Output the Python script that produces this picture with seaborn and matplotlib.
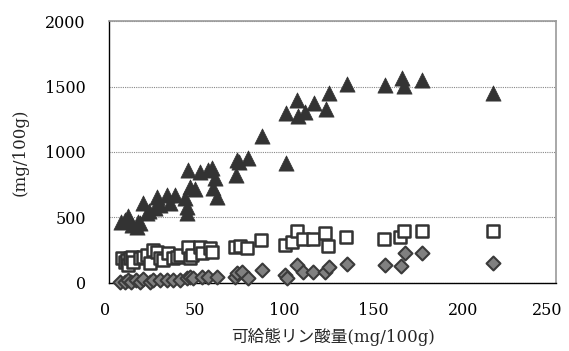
import matplotlib
matplotlib.use("Agg")
import matplotlib.pyplot as plt
import matplotlib.transforms as mtransforms
import seaborn as sns
import pandas as pd

# ==========================
# Data
# ==========================

tri_x = [6.5, 8.7, 10.5, 12.4, 15.2, 16.1, 17.1, 18.9, 20.8, 22.0, 25.6, 26.4, 28.3,
         32.0, 33.9, 36.7, 42.3, 43.2, 43.2, 43.8, 45.0, 47.9, 50.7, 55.3, 57.2, 58.1,
         59.1, 60.0, 70.8, 71.2, 72.5, 77.7, 85.2, 98.8, 98.6, 104.8, 105.7, 109.5,
         114.5, 121.2, 123.0, 132.8, 154.3, 163.6, 165.0, 175.0, 214.9]
tri_y = [466, 479, 510, 441, 428, 466, 454, 607, 530, 545, 568, 657, 594,
         670, 607, 670, 645, 581, 530, 861, 734, 715, 849, 861, 880, 721,
         798, 657, 823, 938, 925, 951, 1122, 913, 1295, 1397, 1275, 1308,
         1376, 1328, 1453, 1519, 1512, 1563, 1504, 1555, 1448]

sq_x = [6.8, 8.5, 9.6, 10.5, 11.5, 12.4, 13.3, 17.1, 18.9, 20.8, 22.7, 24.5, 26.4,
        28.3, 30.1, 32.9, 35.7, 37.6, 39.5, 44.1, 45.0, 46.0, 50.7, 51.6, 56.3, 57.2,
        70.3, 73.1, 76.8, 84.8, 98.3, 102.0, 104.8, 108.5, 114.1, 120.7, 122.6,
        132.2, 153.7, 162.7, 164.9, 174.8, 214.6]
sq_y = [186, 160, 173, 134, 186, 198, 160, 186, 198, 211, 148, 249, 236,
        186, 173, 224, 186, 198, 211, 275, 186, 211, 275, 224, 262, 236,
        275, 280, 262, 326, 288, 313, 397, 331, 334, 382, 280,
        346, 334, 346, 397, 397, 395]

dia_x = [6.0, 8.7, 10.5, 12.1, 15.0, 17.0, 18.9, 22.7, 24.5, 28.3, 32.0, 35.7, 39.5,
         43.2, 45.0, 47.0, 51.6, 55.3, 60.0, 70.3, 71.2, 74.0, 77.7, 85.4, 98.3, 99.3,
         104.8, 108.5, 114.1, 120.7, 123.0, 132.8, 154.3, 163.2, 165.4, 174.8, 214.9]
dia_y = [7, 7, 20, 7, 20, 7, 25, 7, 20, 20, 20, 20, 20,
         33, 45, 33, 45, 45, 45, 45, 71, 83, 33, 93, 58, 33,
         131, 83, 83, 83, 122, 142, 135, 127, 229, 229, 148]

x_ticks = [0, 50, 100, 150, 200, 250]
y_ticks = [0, 500, 1000, 1500, 2000]
x_label = "可給態リン酸量(mg/100g)"
y_label = "(mg/100g)"

# ==========================
# Style
# ==========================

sns.set_style("white")
plt.rcParams["font.family"] = ["DejaVu Serif", "Noto Sans CJK JP"]

fig = plt.figure(figsize=(5.69, 3.51), dpi=100)
ax = fig.add_axes([0.1924, 0.195, 0.977 - 0.1924, 0.939 - 0.195])

# ==========================
# Scatter series
# ==========================

sns.scatterplot(x=tri_x, y=tri_y, marker="^", s=120, color="#333333",
                edgecolor="#333333", linewidth=0.5, ax=ax, clip_on=False, zorder=3)
sns.scatterplot(x=sq_x, y=sq_y, marker="s", s=68, color="white",
                edgecolor="#333333", linewidth=1.8, ax=ax, clip_on=False, zorder=3)
sns.scatterplot(x=dia_x, y=dia_y, marker="D", s=50, color="#808080",
                edgecolor="#3a3a3a", linewidth=1.5, ax=ax, clip_on=False, zorder=3)

# ==========================
# Axes
# ==========================

ax.set_xlim(0, 250)
ax.set_ylim(0, 2000)
ax.set_xticks(x_ticks)
ax.set_yticks(y_ticks)
ax.tick_params(axis="both", direction="in", length=3, width=0.8,
               labelsize=11.5, colors="black")
ax.tick_params(axis="y", pad=17)
ax.tick_params(axis="x", pad=14)

# x tick labels sit a little left of their ticks in the original
labels = ax.get_xticklabels()
for i, lab in enumerate(labels):
    dx = -9 if i == len(labels) - 1 else -4
    lab.set_transform(lab.get_transform() +
                      mtransforms.ScaledTranslation(dx / 100, 0, fig.dpi_scale_trans))

ax.yaxis.grid(True, linestyle=(0, (1, 1)), color="#888888", linewidth=0.8)
ax.set_axisbelow(True)

for side in ["left", "bottom"]:
    ax.spines[side].set_color("black")
    ax.spines[side].set_linewidth(1.0)
for side in ["top", "right"]:
    ax.spines[side].set_color("#999999")
    ax.spines[side].set_linewidth(1.2)

ax.set_xlabel(x_label, fontsize=12, labelpad=6)
ax.set_ylabel(y_label, fontsize=12, labelpad=12)

fig.savefig("out.png", dpi=100)
plt.close()
